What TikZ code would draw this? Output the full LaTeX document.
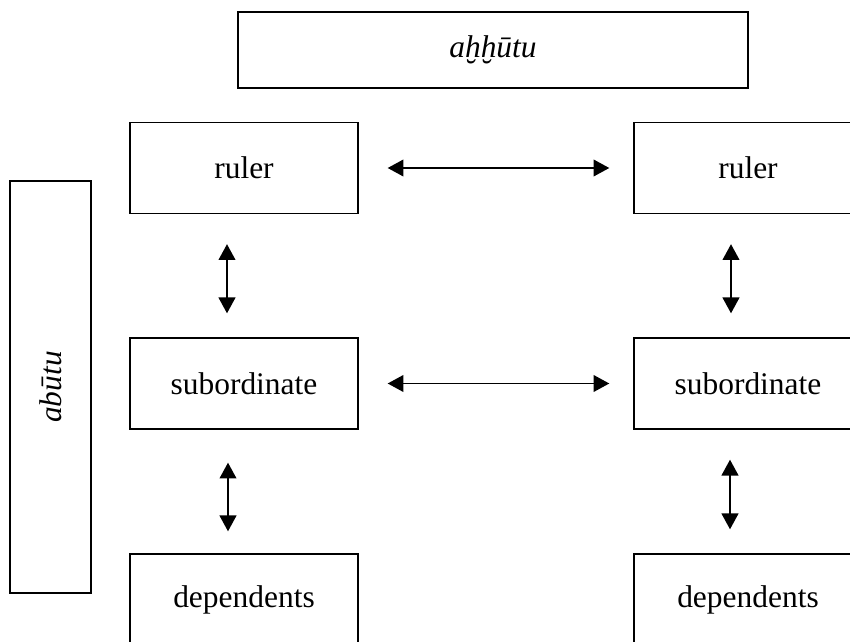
\documentclass[tikz,border=0pt]{standalone}
\usepackage{fontspec}
\setmainfont{Liberation Serif}
\usetikzlibrary{arrows.meta,positioning}

\begin{document}
\begin{tikzpicture}[x=0.02cm,y=-0.02cm,
  font=\fontsize{17.9}{21}\selectfont,
  box/.style={draw,line width=0.8pt,inner sep=0pt,minimum width=4.56cm,minimum height=1.82cm},
  link/.style={{Triangle[length=9pt,width=9.5pt]}-{Triangle[length=9pt,width=9.5pt]},line width=1.1pt}]
  \useasboundingbox (0,0) rectangle (850,642);
  \clip (0,0) rectangle (850,642);
  \node[box,minimum width=10.2cm,minimum height=1.52cm] (brothers) at (493,50) {\textit{aḫḫūtu}};
  \node[box,rotate=90,minimum width=8.24cm,minimum height=1.62cm] (fathers) at (50.5,387) {\textit{abūtu}};
  \foreach \side/\cx in {L/244,R/748} {
    \node[box] (ruler\side) at (\cx,168) {ruler};
    \node[box] (sub\side) at (\cx,383.5) {subordinate};
    \node[box] (dep\side) at (\cx,599.5) {dependents};
  }
  % across
  \draw[link,shorten <=0.58cm,shorten >=0.48cm] (rulerL) -- (rulerR);
  \draw[link,shorten <=0.58cm,shorten >=0.48cm] (subL) -- (subR);
  % down
  \draw[link,shorten <=0.6cm,shorten >=0.48cm] ([xshift=-0.34cm]rulerL.south) -- ([xshift=-0.34cm]subL.north);
  \draw[link,shorten <=0.6cm,shorten >=0.48cm] ([xshift=-0.34cm]rulerR.south) -- ([xshift=-0.34cm]subR.north);
  \draw[link,shorten <=0.66cm,shorten >=0.44cm] ([xshift=-0.32cm]subL.south) -- ([xshift=-0.32cm]depL.north);
  \draw[link,shorten <=0.6cm,shorten >=0.48cm] ([xshift=-0.36cm]subR.south) -- ([xshift=-0.36cm]depR.north);
\end{tikzpicture}
\end{document}
